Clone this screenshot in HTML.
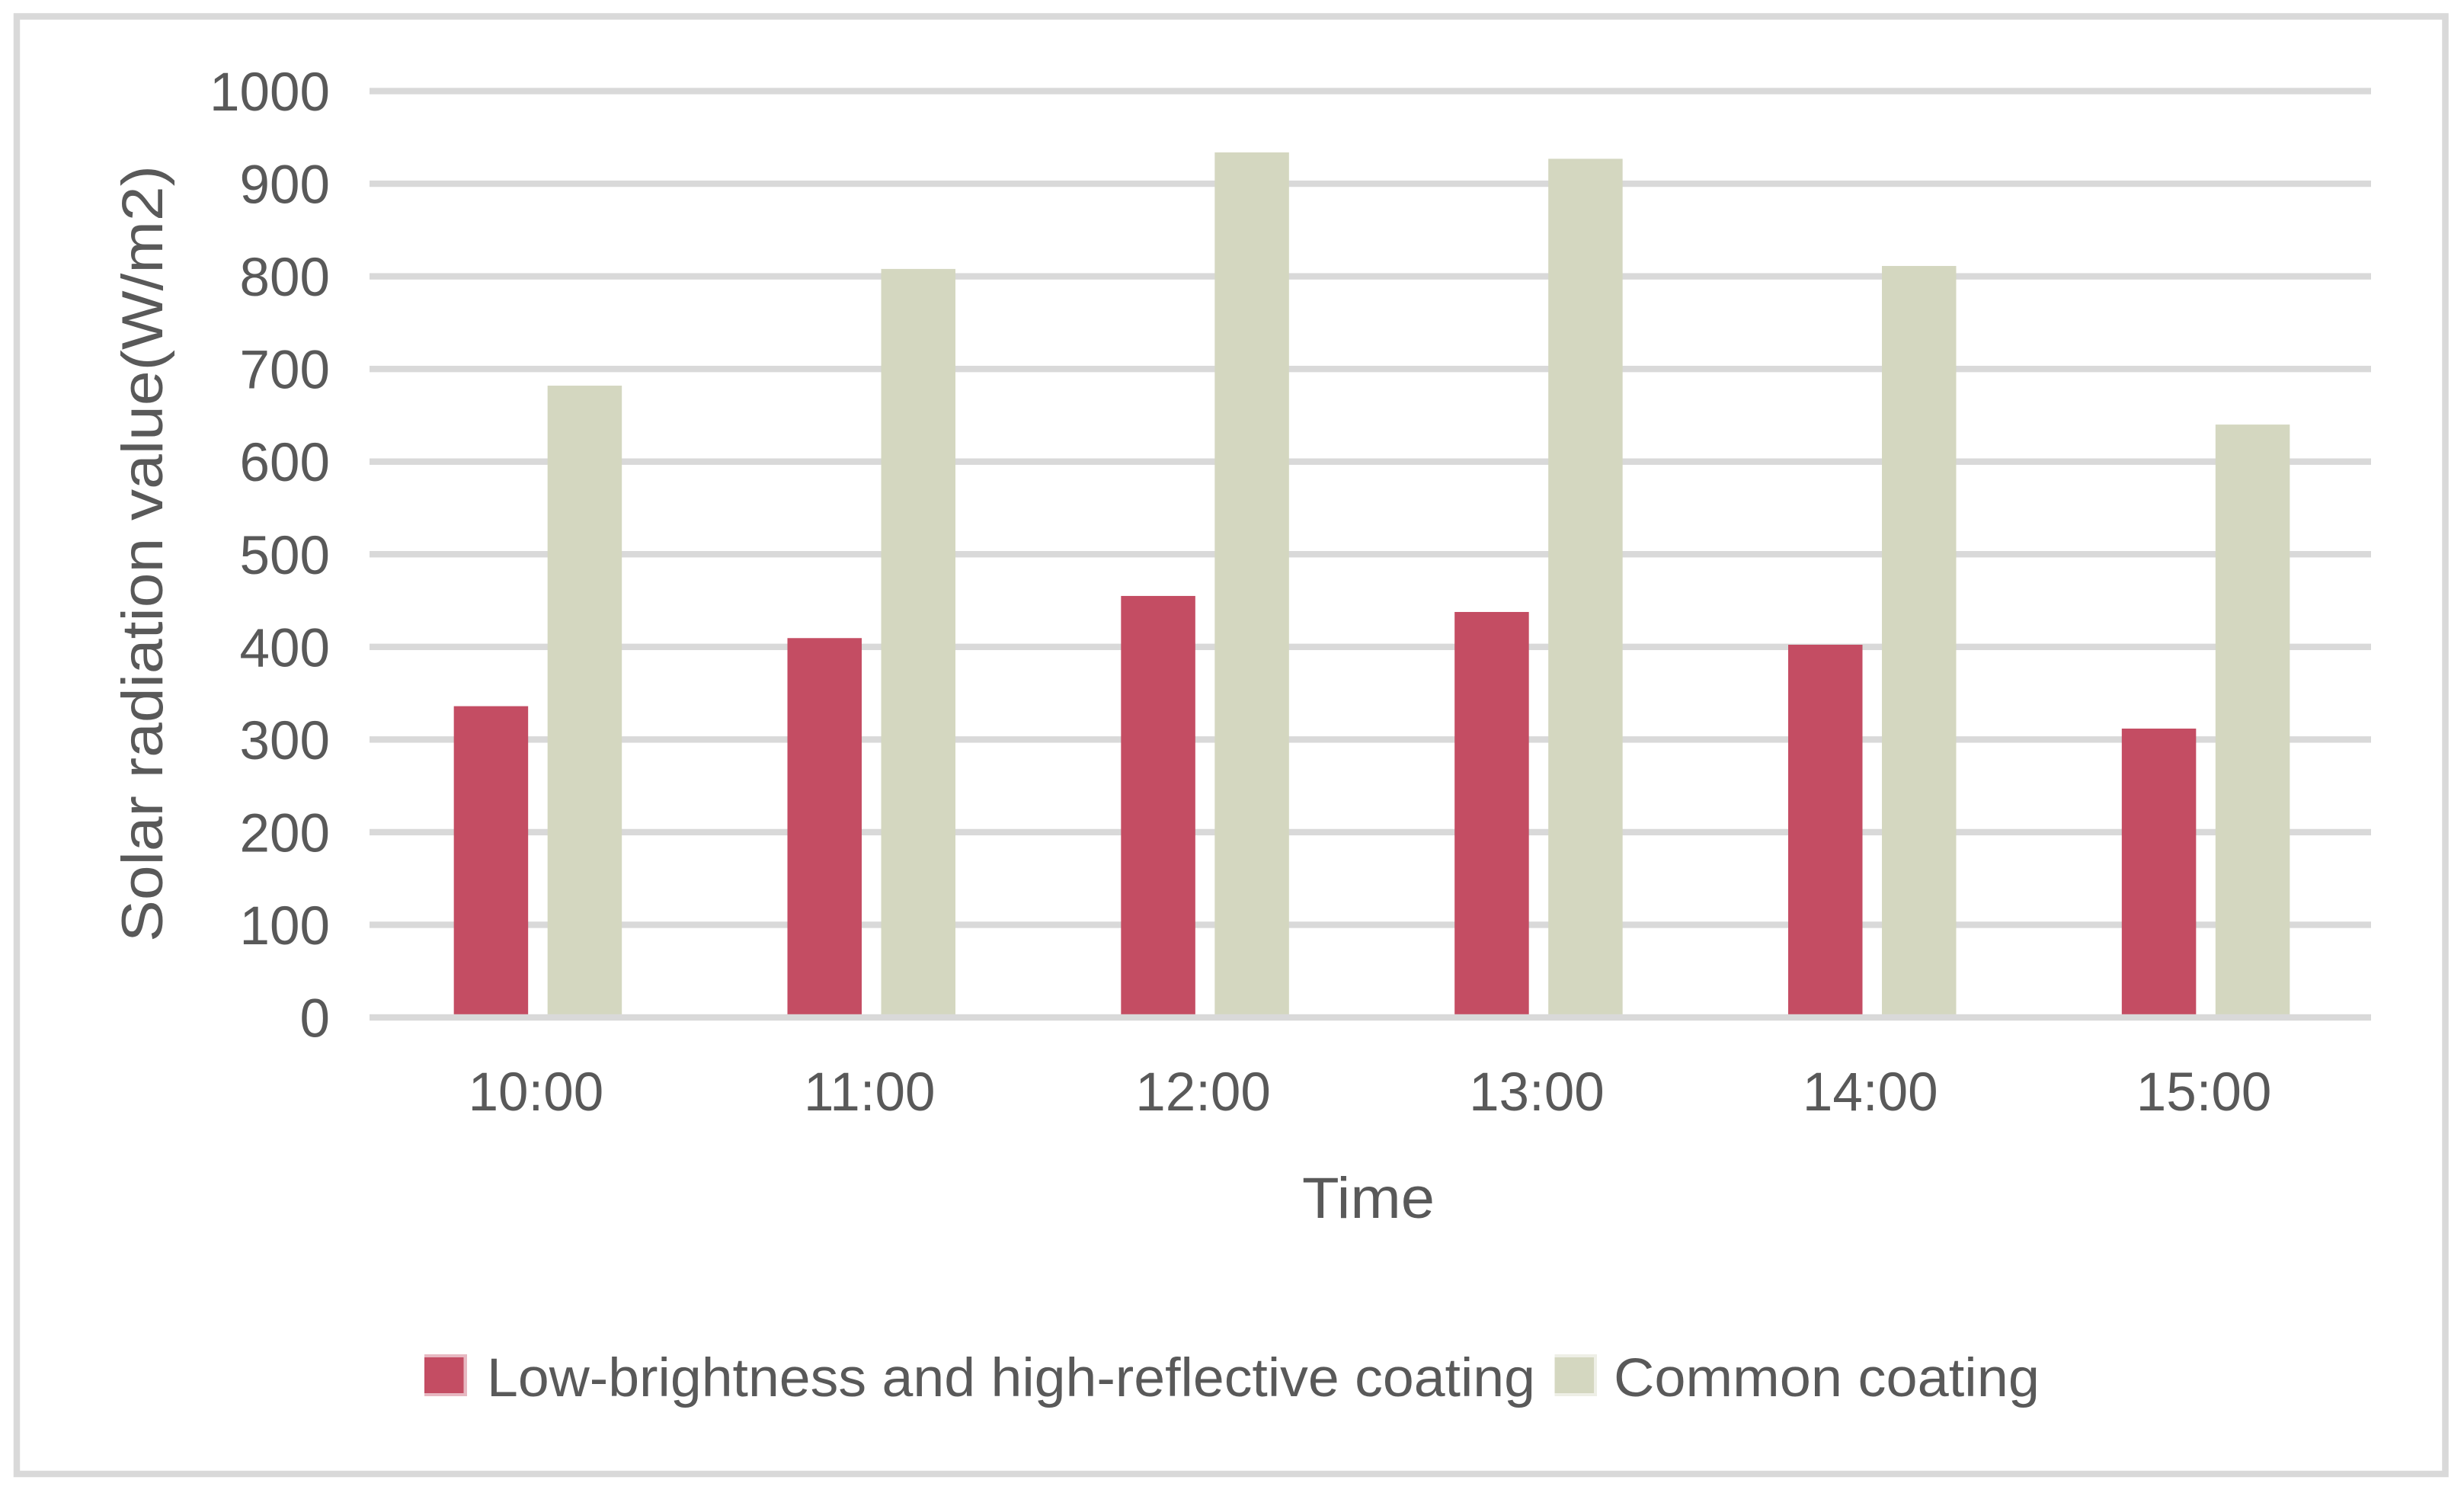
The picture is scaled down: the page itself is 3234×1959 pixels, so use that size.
<!DOCTYPE html>
<html lang="en">
<head>
<meta charset="utf-8">
<title>Solar radiation by coating</title>
<style>
html,body{margin:0;padding:0;background:#fff;}
svg{display:block;}
text{font-family:"Liberation Sans",sans-serif;fill:#595959;}
</style>
</head>
<body>
<svg id="chart" xmlns="http://www.w3.org/2000/svg" width="3234" height="1959" viewBox="0 0 3234 1959">
<rect x="0" y="0" width="3234" height="1959" fill="#ffffff"/>
<rect x="22" y="21.5" width="3187.5" height="1912.5" fill="#ffffff" stroke="#d9d9d9" stroke-width="8.5"/>
<g id="grid"></g>
<g id="bars"></g>
<g id="axis"></g>
<g id="yticks"></g>
<g id="xticks"></g>
<text transform="translate(213,1236) rotate(-90)" font-size="76" textLength="1019" lengthAdjust="spacingAndGlyphs">Solar radiation value(W/m2)</text>
<text x="1709" y="1598" font-size="76" textLength="174" lengthAdjust="spacingAndGlyphs">Time</text>
<rect x="557" y="1777" width="56" height="55" fill="#c44d63" opacity="0.4"/>
<rect x="557" y="1781" width="51.5" height="47" fill="#c44d63"/>
<text x="639" y="1832" font-size="71" textLength="1376" lengthAdjust="spacingAndGlyphs">Low-brightness and high-reflective coating</text>
<rect x="2040.5" y="1777" width="55.5" height="55" fill="#d4d7c0" opacity="0.4"/>
<rect x="2040.5" y="1781" width="51.5" height="47" fill="#d4d7c0"/>
<text x="2118" y="1832" font-size="71" textLength="559" lengthAdjust="spacingAndGlyphs">Common coating</text>
</svg>
<script>
const categories = ['10:00', '11:00', '12:00', '13:00', '14:00', '15:00'];
const lowBrightness = [336, 409.5, 455, 437.7, 402.3, 311.8];
const commonCoating = [682, 808, 933.8, 926.9, 811.2, 640];
const yTicks = [0, 100, 200, 300, 400, 500, 600, 700, 800, 900, 1000];

const NS = 'http://www.w3.org/2000/svg';
const plotLeft = 485;
const plotRight = 3112;
const plotZero = 1335;
const plotTop = 119.5;
const yMax = 1000;
const barWidth = 97.5;
const barGap = 25.5;

function yScale(v) {
  return plotZero - (v / yMax) * (plotZero - plotTop);
}
function xCenter(i) {
  return plotLeft + (i + 0.5) * (plotRight - plotLeft) / categories.length + 2;
}
function make(tag, attrs) {
  const el = document.createElementNS(NS, tag);
  for (const k in attrs) el.setAttribute(k, attrs[k]);
  return el;
}

const gridG = document.getElementById('grid');
const yG = document.getElementById('yticks');
yTicks.forEach(function (t) {
  if (t !== 0) {
    const line = make('rect', {x: plotLeft, y: yScale(t) - 4.2, width: plotRight - plotLeft, height: 8.4, fill: '#d9d9d9'});
    
    
    gridG.appendChild(line);
  }
  const label = make('text', {x: 433, y: yScale(t) + 25.5, 'font-size': 71, 'text-anchor': 'end'});
  
  
  label.textContent = t;
  yG.appendChild(label);
});

const barsG = document.getElementById('bars');
const xG = document.getElementById('xticks');
categories.forEach(function (c, i) {
  const cx = xCenter(i);
  const top1 = yScale(lowBrightness[i]);
  const bar1 = make('rect', {x: cx - barGap / 2 - barWidth, y: top1, width: barWidth, height: plotZero - top1, fill: '#c44d63'});
  
  
  barsG.appendChild(bar1);

  const top2 = yScale(commonCoating[i]);
  const bar2 = make('rect', {x: cx + barGap / 2, y: top2, width: barWidth, height: plotZero - top2, fill: '#d4d7c0'});
  
  
  barsG.appendChild(bar2);

  const label = make('text', {x: cx - 2.5, y: 1457, 'font-size': 71, 'text-anchor': 'middle'});
  
  
  label.textContent = c;
  xG.appendChild(label);
});

const axisG = document.getElementById('axis');
const axisLine = make('rect', {x: plotLeft, y: plotZero - 4.2, width: plotRight - plotLeft, height: 8.4, fill: '#d9d9d9'});


axisG.appendChild(axisLine);
</script>
</body>
</html>
